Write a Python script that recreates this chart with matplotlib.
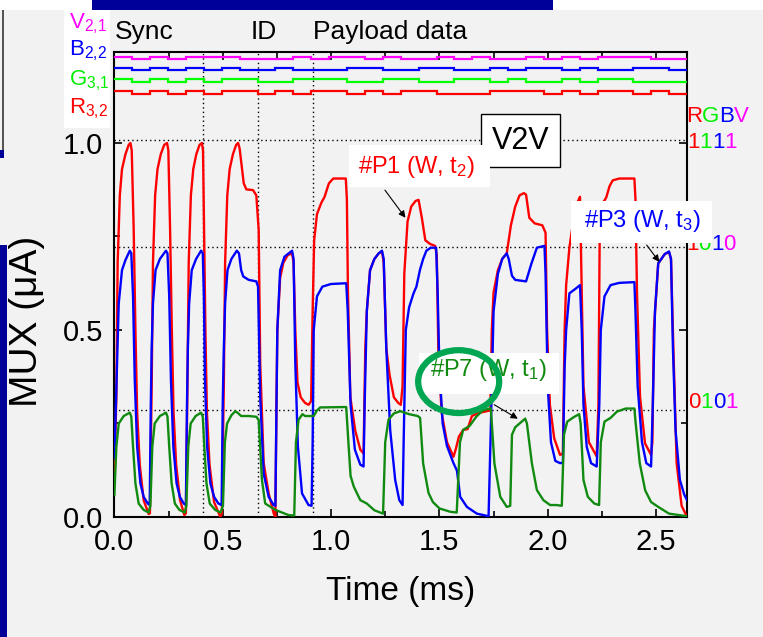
import matplotlib.pyplot as plt
import numpy as np
from matplotlib.patches import Ellipse, Rectangle

plt.rcParams["font.family"] = ["Liberation Sans", "DejaVu Sans"]
plt.rcParams["mathtext.default"] = "regular"

# ---------------- data ----------------
red_t = [0.000, 0.009, 0.015, 0.025, 0.035, 0.051, 0.066, 0.074, 0.080, 0.089, 0.097, 0.105, 0.117, 0.135, 0.158,
         0.164, 0.172, 0.178, 0.188, 0.199, 0.214, 0.230, 0.243, 0.249, 0.257, 0.265, 0.273, 0.285, 0.303, 0.323,
         0.330, 0.337, 0.343, 0.353, 0.364, 0.378, 0.393, 0.404, 0.409, 0.414, 0.420, 0.427, 0.439, 0.460, 0.489,
         0.496, 0.505, 0.511, 0.521, 0.532, 0.547, 0.562, 0.571, 0.578, 0.586, 0.597, 0.609, 0.640, 0.655, 0.662,
         0.666, 0.673, 0.689, 0.712, 0.735, 0.743,
         0.748, 0.752, 0.765, 0.780, 0.800, 0.820, 0.827, 0.835, 0.845, 0.860, 0.880, 0.896, 0.908,
         0.915, 0.922, 0.935, 0.955, 0.970, 0.990, 1.010, 1.040, 1.068, 1.073, 1.078, 1.089, 1.112, 1.135, 1.150,
         1.158, 1.165, 1.180, 1.200, 1.220, 1.235, 1.243, 1.255, 1.270, 1.290, 1.310, 1.322,
         1.330, 1.338, 1.353, 1.370, 1.390, 1.404, 1.419, 1.435, 1.457, 1.480, 1.488, 1.495, 1.510, 1.535, 1.565,
         1.575, 1.590, 1.610, 1.630, 1.650, 1.680, 1.720, 1.735,
         1.742, 1.750, 1.770, 1.790, 1.811, 1.830, 1.850, 1.870, 1.890, 1.900, 1.915, 1.940, 1.975, 1.990, 1.997,
         2.010, 2.030, 2.057, 2.070,
         2.078, 2.085, 2.100, 2.120, 2.140, 2.149, 2.157, 2.165, 2.190, 2.226,
         2.234, 2.240, 2.255, 2.270, 2.285, 2.300, 2.330, 2.400, 2.405, 2.412, 2.426, 2.449, 2.477,
         2.483, 2.490, 2.510, 2.540, 2.560, 2.569, 2.580, 2.595, 2.618, 2.643]
red_v = [0.12, 0.32, 0.68, 0.86, 0.93, 0.97, 0.995, 1.0, 0.98, 0.77, 0.50, 0.28, 0.14, 0.045, 0.008,
         0.01, 0.35, 0.68, 0.86, 0.93, 0.97, 0.995, 1.0, 0.98, 0.77, 0.50, 0.28, 0.14, 0.045, 0.005,
         0.01, 0.35, 0.68, 0.86, 0.93, 0.97, 0.995, 1.0, 0.98, 0.77, 0.50, 0.28, 0.14, 0.04, 0.0,
         0.01, 0.35, 0.68, 0.86, 0.93, 0.97, 0.995, 1.0, 0.985, 0.946, 0.892, 0.876, 0.874, 0.86, 0.80,
         0.767, 0.41, 0.144, 0.063, 0.01, 0.0,
         0.30, 0.50, 0.64, 0.68, 0.70, 0.705, 0.68, 0.50, 0.36, 0.32, 0.305, 0.30, 0.31,
         0.55, 0.74, 0.81, 0.84, 0.856, 0.892, 0.905, 0.905, 0.905, 0.85, 0.60, 0.32, 0.23, 0.18, 0.17,
         0.45, 0.55, 0.66, 0.69, 0.705, 0.71, 0.68, 0.45, 0.38, 0.32, 0.305, 0.30,
         0.35, 0.65, 0.79, 0.83, 0.845, 0.848, 0.80, 0.74, 0.73, 0.725, 0.70, 0.45, 0.28, 0.20, 0.161,
         0.18, 0.215, 0.233, 0.235, 0.27, 0.278, 0.283, 0.285,
         0.50, 0.60, 0.66, 0.69, 0.705, 0.78, 0.83, 0.86, 0.866, 0.862, 0.80, 0.785, 0.78, 0.76, 0.50,
         0.30, 0.21, 0.166, 0.17,
         0.50, 0.62, 0.72, 0.80, 0.845, 0.856, 0.60, 0.35, 0.20, 0.162,
         0.30, 0.767, 0.84, 0.854, 0.884, 0.90, 0.905, 0.905, 0.85, 0.60, 0.322, 0.197, 0.166,
         0.20, 0.50, 0.678, 0.703, 0.708, 0.69, 0.45, 0.144, 0.03, 0.0]

blue_t = [0.000, 0.012, 0.020, 0.035, 0.051, 0.071, 0.078, 0.086, 0.094, 0.105, 0.120, 0.135, 0.154, 0.163,
          0.168, 0.172, 0.178, 0.190, 0.210, 0.238, 0.245, 0.253, 0.261, 0.272, 0.287, 0.302, 0.320, 0.330,
          0.335, 0.339, 0.345, 0.357, 0.377, 0.400, 0.408, 0.413, 0.418, 0.428, 0.443, 0.460, 0.480, 0.495,
          0.500, 0.505, 0.511, 0.522, 0.540, 0.565, 0.575, 0.585, 0.595, 0.620, 0.655, 0.663, 0.673, 0.689,
          0.712, 0.735, 0.743,
          0.748, 0.752, 0.765, 0.785, 0.820, 0.827, 0.835, 0.847, 0.866, 0.896, 0.910,
          0.915, 0.920, 0.935, 0.960, 1.000, 1.070, 1.077, 1.090, 1.110, 1.135, 1.150,
          1.155, 1.165, 1.180, 1.200, 1.220, 1.235, 1.243, 1.255, 1.273, 1.296, 1.315, 1.330,
          1.335, 1.345, 1.360, 1.380, 1.394, 1.410, 1.425, 1.440, 1.460, 1.485, 1.492, 1.500, 1.515, 1.535,
          1.565, 1.581, 1.596, 1.627, 1.673, 1.727,
          1.740, 1.750, 1.770, 1.790, 1.811, 1.820, 1.835, 1.850, 1.900, 1.925, 1.950, 1.985, 1.990, 2.000,
          2.015, 2.035, 2.057, 2.070,
          2.078, 2.085, 2.100, 2.130, 2.149, 2.157, 2.165, 2.180, 2.200, 2.226,
          2.238, 2.245, 2.262, 2.290, 2.330, 2.400, 2.405, 2.415, 2.435, 2.455, 2.477,
          2.485, 2.495, 2.510, 2.540, 2.560, 2.569, 2.578, 2.590, 2.610, 2.630, 2.643]
blue_v = [0.157, 0.41, 0.571, 0.66, 0.687, 0.712, 0.705, 0.59, 0.366, 0.188, 0.09, 0.054, 0.036, 0.032,
          0.30, 0.45, 0.571, 0.66, 0.69, 0.712, 0.705, 0.59, 0.366, 0.188, 0.09, 0.054, 0.036, 0.032,
          0.30, 0.45, 0.571, 0.66, 0.69, 0.712, 0.705, 0.59, 0.366, 0.188, 0.09, 0.054, 0.036, 0.032,
          0.30, 0.45, 0.571, 0.66, 0.69, 0.712, 0.705, 0.66, 0.643, 0.634, 0.63, 0.616, 0.32, 0.116,
          0.054, 0.032, 0.03,
          0.30, 0.50, 0.66, 0.696, 0.712, 0.69, 0.41, 0.188, 0.063, 0.032, 0.03,
          0.20, 0.50, 0.59, 0.616, 0.623, 0.625, 0.55, 0.30, 0.18, 0.14, 0.135,
          0.30, 0.55, 0.66, 0.69, 0.705, 0.712, 0.69, 0.45, 0.232, 0.099, 0.045, 0.032,
          0.20, 0.50, 0.56, 0.597, 0.616, 0.66, 0.69, 0.712, 0.72, 0.72, 0.60, 0.40, 0.25, 0.19,
          0.144, 0.124, 0.054, 0.027, 0.009, 0.002,
          0.30, 0.55, 0.65, 0.69, 0.705, 0.69, 0.645, 0.634, 0.63, 0.678, 0.72, 0.725, 0.65, 0.35,
          0.20, 0.15, 0.144, 0.145,
          0.40, 0.50, 0.598, 0.611, 0.62, 0.50, 0.30, 0.188, 0.144, 0.135,
          0.30, 0.50, 0.59, 0.62, 0.626, 0.628, 0.55, 0.35, 0.20, 0.144, 0.135,
          0.30, 0.55, 0.678, 0.703, 0.71, 0.69, 0.45, 0.232, 0.099, 0.06, 0.045]

green_t = [0.000, 0.009, 0.020, 0.043, 0.071, 0.078, 0.086, 0.097, 0.112, 0.135, 0.158,
           0.166, 0.175, 0.186, 0.210, 0.238, 0.245, 0.253, 0.264, 0.279, 0.300, 0.325,
           0.332, 0.341, 0.352, 0.375, 0.400, 0.408, 0.415, 0.425, 0.440, 0.465, 0.490,
           0.501, 0.510, 0.520, 0.540, 0.558, 0.570, 0.585, 0.620, 0.655, 0.666, 0.681, 0.696, 0.743, 0.804, 0.830,
           0.838, 0.850, 0.868, 0.880, 0.920, 0.935, 0.950, 1.070, 1.080, 1.090, 1.105, 1.135, 1.165, 1.200, 1.240,
           1.250, 1.265, 1.290, 1.320, 1.360, 1.400, 1.411, 1.425, 1.450, 1.470, 1.500, 1.550, 1.580,
           1.595, 1.610, 1.640, 1.670, 1.700, 1.737, 1.742, 1.754, 1.781, 1.811, 1.827,
           1.835, 1.850, 1.870, 1.896, 1.904, 1.927, 1.950, 1.980, 2.011, 2.040, 2.065,
           2.075, 2.090, 2.120, 2.145, 2.152, 2.165, 2.185, 2.215, 2.237,
           2.245, 2.262, 2.290, 2.320, 2.360, 2.400, 2.406, 2.425, 2.450, 2.477, 2.510, 2.560, 2.643]
green_v = [0.059, 0.188, 0.25, 0.27, 0.279, 0.268, 0.188, 0.09, 0.036, 0.019, 0.012,
           0.03, 0.188, 0.25, 0.27, 0.279, 0.268, 0.188, 0.09, 0.036, 0.019, 0.012,
           0.03, 0.188, 0.25, 0.27, 0.279, 0.268, 0.188, 0.09, 0.036, 0.019, 0.012,
           0.03, 0.20, 0.25, 0.272, 0.283, 0.278, 0.27, 0.27, 0.268, 0.259, 0.099, 0.036, 0.019, 0.005, 0.004,
           0.20, 0.26, 0.275, 0.27, 0.27, 0.285, 0.293, 0.294, 0.20, 0.11, 0.081, 0.045, 0.036, 0.018, 0.009,
           0.20, 0.26, 0.277, 0.283, 0.275, 0.27, 0.265, 0.143, 0.064, 0.04, 0.023, 0.014, 0.012,
           0.20, 0.233, 0.244, 0.268, 0.285, 0.291, 0.25, 0.143, 0.054, 0.027, 0.03,
           0.22, 0.24, 0.25, 0.263, 0.25, 0.143, 0.072, 0.045, 0.032, 0.032, 0.03,
           0.22, 0.255, 0.267, 0.275, 0.25, 0.099, 0.054, 0.036, 0.032,
           0.20, 0.255, 0.265, 0.282, 0.29, 0.29, 0.25, 0.143, 0.071, 0.04, 0.027, 0.009, 0.002]

# digital RGBV streams, one bit per 0.0826 ms slot (32 slots)
slot_ms = 0.0826
bits_V = [1, 0, 1, 0, 1, 1, 1, 0, 0, 0, 1, 0, 1, 1, 0, 1, 0, 0, 1, 0, 1, 0, 0, 1, 0, 1, 0, 1, 1, 1, 0, 0]
bits_B = [1, 0, 1, 0, 1, 0, 1, 0, 0, 1, 0, 0, 0, 1, 1, 0, 0, 1, 1, 0, 0, 1, 0, 1, 1, 0, 1, 0, 0, 1, 1, 0]
bits_G = [1, 0, 1, 0, 1, 0, 1, 1, 0, 0, 1, 1, 1, 0, 0, 1, 1, 0, 0, 1, 1, 0, 1, 0, 0, 1, 0, 1, 1, 0, 0, 0]
bits_R = [1, 0, 1, 0, 1, 0, 1, 1, 0, 1, 0, 1, 1, 0, 1, 0, 1, 1, 0, 0, 0, 1, 1, 1, 0, 1, 0, 1, 1, 0, 1, 0]
levels_V = (1.224, 1.231)
levels_B = (1.194, 1.201)
levels_G = (1.164, 1.171)
levels_R = (1.130, 1.139)

section_lines = [0.41, 0.664, 0.915]
code_lines = [1.008, 0.721, 0.286]

# ---------------- figure ----------------
W, H = 763, 637
fig = plt.figure(figsize=(W / 100, H / 100), dpi=100, facecolor="#f2f2f2")


def px_rect(x0, y0, x1, y1, **kw):
    fig.add_artist(Rectangle((x0 / W, 1 - y1 / H), (x1 - x0) / W, (y1 - y0) / H,
                             transform=fig.transFigure, lw=0, zorder=-1, **kw))


# slide decorations
px_rect(0, 0, 92, 10, color="white")
px_rect(92, 0, 553, 10, color="#000099")
px_rect(553, 0, 763, 10, color="white")
px_rect(0, 245, 7, 637, color="#000099")
px_rect(0, 150, 4, 158, color="#000099")
px_rect(2, 10, 4, 150, color="#555555")
px_rect(64, 10, 110, 128, color="white")

ax = fig.add_axes([114.4 / W, 1 - 517 / H, (686.6 - 114.4) / W, (517 - 52) / H])
ax.set_facecolor("#f2f2f2")
ax.set_xlim(0, 2.641)
ax.set_ylim(0, 1.2433)

for y in code_lines:
    ax.axhline(y, color="k", lw=1.0, ls=(0, (1, 2.2)), zorder=1)
for x in section_lines:
    ax.axvline(x, color="k", lw=1.0, ls=(0, (1, 2.2)), zorder=1)

ax.plot(red_t, red_v, color="#ff0000", lw=1.7, zorder=3)
ax.plot(blue_t, blue_v, color="#0000ff", lw=1.7, zorder=3)
ax.plot(green_t, green_v, color="#118a11", lw=1.7, zorder=3)

edges = slot_ms * np.arange(33)
for bits, (lo, hi), col in [(bits_V, levels_V, "#ff00ff"), (bits_B, levels_B, "#0000ff"),
                            (bits_G, levels_G, "#00ff00"), (bits_R, levels_R, "#ff0000")]:
    vals = np.where(np.array(bits) == 1, hi, lo)
    ax.stairs(vals, edges, baseline=None, color=col, lw=1.6, zorder=3)

ax.set_xticks([0, 0.5, 1.0, 1.5, 2.0, 2.5])
ax.set_xticks(np.arange(0.25, 2.6, 0.5), minor=True)
ax.set_yticks([0, 0.5, 1.0])
ax.set_yticks([0.25, 0.75], minor=True)
ax.xaxis.set_major_formatter(plt.FormatStrFormatter("%.1f"))
ax.yaxis.set_major_formatter(plt.FormatStrFormatter("%.1f"))
ax.tick_params(which="both", direction="in", top=True, right=True, width=1.2, labelsize=21)
ax.tick_params(which="major", length=6, pad=8)
ax.tick_params(which="minor", length=4)
for s in ax.spines.values():
    s.set_linewidth(1.5)

ax.set_xlabel("Time (ms)", fontsize=24, labelpad=14)
ax.set_ylabel("MUX (\u03bcA)", fontsize=28)
ax.yaxis.set_label_coords(-0.121, 0.42)

# section labels above the axes
for x, s in [(0.0, "Sync"), (0.627, "ID"), (0.918, "Payload data")]:
    ax.text(x, (517 - 39) / 465, s, transform=ax.get_xaxis_transform(), fontsize=19,
            va="baseline", ha="left")

# left channel labels
for y, s, col in [(28, "V$_{2{,}1}$", "#ff00ff"), (55, "B$_{2{,}2}$", "#0000ff"),
                  (85, "G$_{3{,}1}$", "#00ee00"), (113, "R$_{3{,}2}$", "#ff0000")]:
    fig.text(69 / W, 1 - y / H, s, color=col, fontsize=16, va="baseline", ha="left")

# right multi-coloured code labels
renderer = fig.canvas.get_renderer()
code_cols = ["#ff0000", "#00ee00", "#0000ff", "#ff00ff"]


def colored_text(x_px, y_px, chars):
    x = x_px
    for ch, c in zip(chars, code_cols):
        t = ax.text(x / W, 1 - y_px / H, ch, color=c, fontsize=16, va="baseline", ha="left",
                    transform=fig.transFigure, zorder=2)
        x += t.get_window_extent(renderer=renderer).width


colored_text(686, 121.5, "RGBV")
colored_text(687, 148, "1111")
colored_text(686, 250, "1010")
colored_text(688, 408, "0101")

# V2V box
ax.add_patch(Rectangle((1.693, 0.936), 0.364, 0.142, facecolor="white", edgecolor="k", lw=1.0,
                       zorder=6, clip_on=False))
ax.text(1.875, 1.005, "V2V", fontsize=22, ha="center", va="center", zorder=7)

# annotation boxes
boxes = [((1.083, 0.883), 0.650, 0.112, "#P1 (W, t$_2$)", "#ff0000", (1.395, 0.935),
          (1.241, 0.880), (1.351, 0.794)),
         ((2.108, 0.732), 0.651, 0.114, "#P3 (W, t$_3$)", "#0000ff", (2.437, 0.792),
          (2.449, 0.733), (2.523, 0.676)),
         ((1.404, 0.329), 0.646, 0.110, "#P7 (W, t$_1$)", "#118a11", (1.727, 0.392),
          (1.742, 0.304), (1.873, 0.259))]
for (x0, y0), w, h, s, col, tpos, tail, tip in boxes:
    ax.add_patch(Rectangle((x0, y0), w, h, facecolor="white", edgecolor="none", zorder=6,
                           clip_on=False))
    ax.text(tpos[0], tpos[1], s, color=col, fontsize=17, ha="center", va="center", zorder=7)
    ax.annotate("", xy=tip, xytext=tail, zorder=7,
                arrowprops=dict(arrowstyle="-|>", color="k", lw=0.8, mutation_scale=10))

ax.add_patch(Ellipse((1.589, 0.362), 0.374, 0.168, facecolor="none", edgecolor="#00a651",
                     lw=4.5, zorder=8, clip_on=False))

fig.savefig("out.png", dpi=100, facecolor=fig.get_facecolor())
